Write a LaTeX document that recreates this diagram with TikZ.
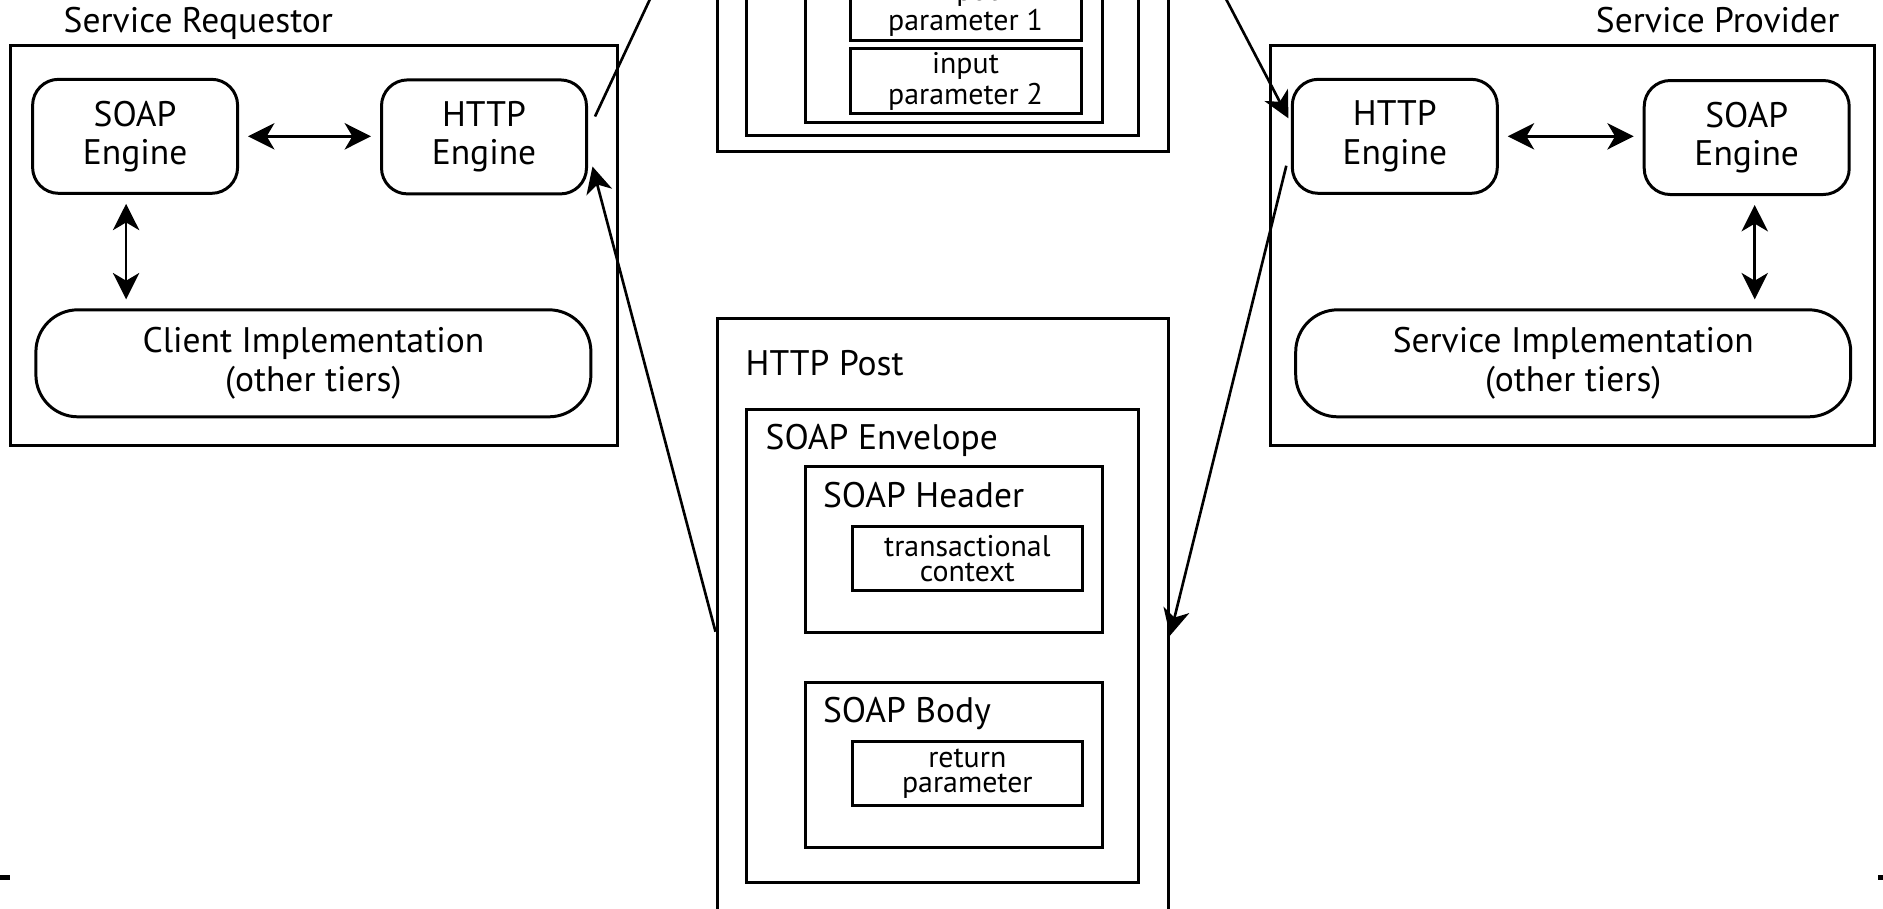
\documentclass[tikz,border=0pt]{standalone}
\usepackage{fontspec}
\setmainfont{PT Sans}
\usetikzlibrary{arrows.meta}

\newcommand{\boxfont}{\fontsize{10.1}{10.9}\selectfont}
\newcommand{\partfont}{\fontsize{8.5}{7.2}\selectfont}

\begin{document}
\begin{tikzpicture}[
    >={Stealth[length=7.5pt,width=7.5pt,inset=2.2pt]},
    frame/.style={draw, line width=0.85pt, inner sep=0pt},
    engine/.style={draw, line width=0.85pt, rounded corners=0.26cm, minimum width=2.05cm, minimum height=1.14cm, align=center, font=\boxfont},
    impl/.style={draw, line width=0.85pt, rounded corners=0.42cm, minimum width=5.55cm, minimum height=1.07cm, align=center, font=\boxfont},
    part/.style={draw, line width=0.85pt, minimum height=0.64cm, inner ysep=1pt, align=center, font=\partfont},
    title/.style={font=\boxfont, inner sep=0pt},
    link/.style={->, line width=0.75pt},
    biarrow/.style={<->, line width=0.75pt, shorten <=0.09cm, shorten >=0.09cm}
]
  \useasboundingbox (0,0) rectangle (18.83,-9.08);
  \clip (0,0) rectangle (18.83,-9.08);

  % service requestor
  \node[frame, minimum width=6.065cm, minimum height=4cm] (reqframe) at (3.14,-2.456) {};
  \node[title, anchor=base west] (reqtitle) at (0.63,-0.323) {Service Requestor};
  \node[engine] (lsoap) at (1.351,-1.363) {SOAP\\Engine};
  \node[engine] (lhttp) at (4.84,-1.369) {HTTP\\Engine};
  \node[impl] (client) at (3.134,-3.633) {Client Implementation\\(other tiers)};

  \draw[biarrow] (lsoap.east) -- (lsoap.east -| lhttp.west);
  \draw[biarrow] ([xshift=-0.09cm]lsoap.south) -- ([xshift=-0.09cm]lsoap.south |- client.north);

  % service provider
  \node[frame, minimum width=6.04cm, minimum height=4cm] (provframe) at (15.726,-2.456) {};
  \node[title, anchor=base east] (provtitle) at (18.40,-0.323) {Service Provider};
  \node[engine] (rhttp) at (13.948,-1.363) {HTTP\\Engine};
  \node[engine] (rsoap) at (17.467,-1.375) {SOAP\\Engine};
  \node[impl] (service) at (15.732,-3.633) {Service Implementation\\(other tiers)};

  \draw[biarrow] (rhttp.east) -- (rhttp.east -| rsoap.west);
  \draw[biarrow] ([xshift=0.08cm]rsoap.south) -- ([xshift=0.08cm]rsoap.south |- service.north);

  % request message, cut by the page top
  \node[frame, minimum width=4.515cm, minimum height=4.01cm] (reqpost) at (9.4275,0.494) {};
  \node[frame, minimum width=3.924cm, minimum height=3.657cm] (reqenv) at (9.422,0.4715) {};
  \node[frame, minimum width=2.974cm, minimum height=3.325cm] (reqbody) at (9.537,0.4375) {};
  \node[part, minimum width=2.31cm] (param1) at (9.655,-0.078) {input\\parameter 1};
  \node[part, minimum width=2.31cm] (param2) at (9.655,-0.8105) {input\\parameter 2};

  % response message
  \node[frame, minimum width=4.515cm, minimum height=6.418cm] (respost) at (9.4275,-6.391) {};
  \node[title, anchor=base west] (posttitle) at (7.45,-3.757) {HTTP Post};
  \node[frame, minimum width=3.924cm, minimum height=4.732cm] (resenv) at (9.422,-6.461) {};
  \node[title, anchor=base west] (envtitle) at (7.65,-4.494) {SOAP Envelope};
  \node[frame, minimum width=2.974cm, minimum height=1.669cm] (reshead) at (9.537,-5.4945) {};
  \node[title, anchor=base west] (headtitle) at (8.224,-5.076) {SOAP Header};
  \node[part, minimum width=2.294cm] (ctx) at (9.673,-5.584) {transactional\\context};
  \node[frame, minimum width=2.974cm, minimum height=1.657cm] (resbody) at (9.537,-7.6495) {};
  \node[title, anchor=base west] (bodytitle) at (8.224,-7.221) {SOAP Body};
  \node[part, minimum width=2.294cm] (retparam) at (9.673,-7.734) {return\\parameter};

  % message flow
  \coordinate (reqin) at (7.17,1.44);
  \coordinate (reqout) at (11.685,1.11);
  \draw[link] ([xshift=0.07cm,yshift=0.204cm]lhttp.east) -- (reqin);
  \draw[link] (reqout) -- ([xshift=-0.024cm,yshift=0.18cm]rhttp.west);
  \draw[link] ([xshift=-0.045cm,yshift=-0.294cm]rhttp.west) -- ([yshift=0.035cm]respost.east);
  \draw[link] ([yshift=0.074cm]respost.west) -- ([xshift=0.045cm,yshift=-0.296cm]lhttp.east);

  % page edge marks
  \fill (0,-8.75) rectangle (0.10,-8.80);
  \fill (18.78,-8.75) rectangle (18.83,-8.80);
\end{tikzpicture}
\end{document}
